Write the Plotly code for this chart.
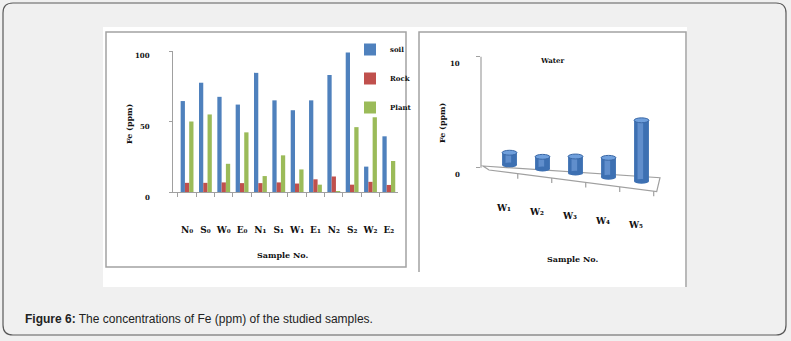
import plotly.graph_objects as go

W, H = 791, 341

# ---------------- data ----------------
samples = ["N₀", "S₀", "W₀", "E₀", "N₁", "S₁", "W₁", "E₁", "N₂", "S₂", "W₂", "E₂"]
soil = [64.5, 77.5, 67.5, 62.0, 84.5, 65.0, 58.0, 65.0, 83.0, 99.0, 18.0, 39.5]
rock = [6.5, 6.5, 6.8, 6.3, 6.3, 6.8, 6.0, 9.0, 11.0, 5.2, 7.2, 5.0]
plant = [50.0, 55.0, 20.0, 42.3, 11.3, 26.0, 16.0, 5.2, 0.4, 46.0, 53.0, 22.0]
left_yticks = [0, 50, 100]

water_samples = ["W₁", "W₂", "W₃", "W₄", "W₅"]
water = [1.1, 1.1, 1.5, 1.75, 5.5]
right_yticks = [0, 10]

# ---------------- style helpers ----------------
def px(x):
    return x / W

def py(y):
    return 1 - y / H

BLUE, RED, GREEN = "#4F81BD", "#C0504D", "#9BBB59"
AXIS_GREY = "#a0a0a0"
LBL = dict(family="DejaVu Serif", size=8, color="#111111", weight="bold")

# right (pseudo 3-D) chart pixel mapping
R_X0, R_XSTEP = 509.5, 33.0
R_Y0, R_YSTEP = 167.7, 11.1
def rx(p):
    return (p - R_X0) / R_XSTEP
def ry(p):
    return (R_Y0 - p) / R_YSTEP

BAR_W = 0.45
ELL_H = 0.22
FLOOR_SLOPE = -0.37
BASE0 = 0.25

fig = go.Figure()

# ---------------- left chart ----------------
for name, vals, col in [("soil", soil, BLUE), ("Rock", rock, RED), ("Plant", plant, GREEN)]:
    fig.add_trace(go.Bar(x=samples, y=vals, name=name, marker_color=col,
                         marker_line_width=0, legendgroup=name,
                         xaxis="x", yaxis="y"))

# ---------------- right chart ----------------
n = len(water)
idx = list(range(n))
bases = [BASE0 + FLOOR_SLOPE * i for i in idx]
fig.add_trace(go.Bar(x=idx, y=water, base=bases, width=BAR_W, offset=-BAR_W / 2,
                     marker_color="#3d70b2", marker_line_width=0, showlegend=False,
                     xaxis="x2", yaxis="y2"))
fig.add_trace(go.Bar(x=idx, y=water, base=bases, width=0.17, offset=-0.12,
                     marker_color="rgba(140,180,235,0.45)", marker_line_width=0,
                     showlegend=False, xaxis="x2", yaxis="y2"))

shapes = []
# outer rounded frame
x0, x1, y0, y1 = px(3), px(786), py(335), py(3)
rxp, ryp = 10 / W, 10 / H
shapes.append(dict(
    type="path", xref="paper", yref="paper", layer="below",
    path=(f"M{x0 + rxp},{y1} L{x1 - rxp},{y1} Q{x1},{y1} {x1},{y1 - ryp} "
          f"L{x1},{y0 + ryp} Q{x1},{y0} {x1 - rxp},{y0} L{x0 + rxp},{y0} "
          f"Q{x0},{y0} {x0},{y0 + ryp} L{x0},{y1 - ryp} Q{x0},{y1} {x0 + rxp},{y1} Z"),
    line=dict(color="#5a5a5a", width=1.2), fillcolor="#f0f0f0"))
# white image area
shapes.append(dict(type="rect", xref="paper", yref="paper", layer="below",
                   x0=px(103), x1=px(687), y0=py(287), y1=py(27),
                   fillcolor="white", line=dict(width=0)))
# left panel border
shapes.append(dict(type="rect", xref="paper", yref="paper", layer="below",
                   x0=px(106), x1=px(406), y0=py(267), y1=py(32),
                   line=dict(color="#a3a3a3", width=1.5)))
# right panel border
shapes.append(dict(type="path", xref="paper", yref="paper", layer="below",
                   path=f"M{px(419)},{py(272)} L{px(419)},{py(32)} L{px(686)},{py(32)} L{px(686)},{py(287)}",
                   line=dict(color="#a3a3a3", width=1.5)))

# back vertical axis of the 3-D chart
shapes.append(dict(type="line", xref="x2 domain", yref="y2", x0=0, x1=0,
                   y0=right_yticks[0], y1=right_yticks[-1],
                   line=dict(color=AXIS_GREY, width=1.2), layer="below"))
# floor
BL, BR, FR, FL = (rx(483), ry(166)), (rx(660), ry(177.7)), (rx(656.7), ry(191.7)), (rx(489), ry(170))
shapes.append(dict(type="path", xref="x2", yref="y2", layer="below",
                   path=f"M{BL[0]},{BL[1]} L{BR[0]},{BR[1]} L{FR[0]},{FR[1]} L{FL[0]},{FL[1]} Z",
                   line=dict(color=AXIS_GREY, width=1.2), fillcolor="white"))
front_slope = (FR[1] - FL[1]) / (FR[0] - FL[0])
for i in idx:
    tx = i + 0.5 - 0.25 + 0.03 * i
    ty = FL[1] + front_slope * (tx - FL[0])
    shapes.append(dict(type="line", xref="x2", yref="y2", x0=tx, x1=tx, y0=ty, y1=ty - 0.45,
                       line=dict(color=AXIS_GREY, width=1.2), layer="below"))
# cylinder ends
for i, v, b in zip(idx, water, bases):
    shapes.append(dict(type="circle", xref="x2", yref="y2",
                       x0=i - BAR_W / 2, x1=i + BAR_W / 2, y0=b - ELL_H, y1=b + ELL_H,
                       fillcolor="#3d70b2", line=dict(width=0)))
    shapes.append(dict(type="circle", xref="x2", yref="y2",
                       x0=i - BAR_W / 2, x1=i + BAR_W / 2, y0=b + v - ELL_H, y1=b + v + ELL_H,
                       fillcolor="#6f9fdc", line=dict(color="#3a68a6", width=1)))

annotations = []
def ann(text, x, y, angle=0, font=LBL, xref="paper", yref="paper", xanchor="center", **kw):
    annotations.append(dict(text=text, x=x, y=y, xref=xref, yref=yref, showarrow=False,
                            textangle=angle, font=font, xanchor=xanchor, yanchor="middle", **kw))

ann("Fe (ppm)", px(129), py(124), angle=-90)
ann("Sample No.", px(282), py(255))
ann("Fe (ppm)", px(442), py(123), angle=-90)
ann("Sample No.", px(572), py(259))
ann("Water", px(552), py(60), font=dict(LBL, size=7))
for i, lab in enumerate(water_samples):
    ann(lab, i - 0.19, -3.6 - 0.39 * i, xref="x2", yref="y2", font=dict(LBL, size=9))
# y tick labels (offset below their ticks as in the pseudo-3D original)
for v in left_yticks:
    ann(str(v), px(152), v, yref="y", xanchor="right", yshift=-5, font=dict(LBL, size=7))
for v in right_yticks:
    ann(str(v), px(462), v, yref="y2", xanchor="right", yshift=-6.5, font=dict(LBL, size=7))

annotations.append(dict(
    text="<b>Figure 6:</b> The concentrations of Fe (ppm) of the studied samples.",
    x=px(23), y=py(319), xref="paper", yref="paper", showarrow=False,
    xanchor="left", yanchor="middle",
    font=dict(family="Liberation Sans, Arial, sans-serif", size=12, color="#222222")))

fig.update_layout(
    width=W, height=H, margin=dict(l=0, r=0, t=0, b=0),
    paper_bgcolor="#f0f0f0", plot_bgcolor="rgba(0,0,0,0)",
    barmode="group", bargap=0.3, bargroupgap=0,
    shapes=shapes, annotations=annotations,
    showlegend=True,
    legend=dict(x=px(350), y=py(35), xanchor="left", yanchor="top",
                font=dict(LBL, size=7), bgcolor="rgba(0,0,0,0)",
                tracegroupgap=10, itemwidth=30, traceorder="grouped"),
    xaxis=dict(domain=[px(173), px(398)], type="category",
               range=[-0.5 - 5 / 18.75, len(samples) - 0.5],
               showline=True, linecolor=AXIS_GREY, linewidth=1.2,
               ticks="outside", tickson="boundaries", ticklen=4, tickcolor=AXIS_GREY,
               tickangle=0, tickfont=dict(LBL, size=9), ticklabelstandoff=29,
               showgrid=False, zeroline=False, fixedrange=True),
    yaxis=dict(domain=[py(192), py(51)], range=[left_yticks[0], left_yticks[-1]],
               tickvals=left_yticks, showticklabels=False,
               showline=True, linecolor=AXIS_GREY, linewidth=1.2,
               ticks="outside", ticklen=3, tickcolor=AXIS_GREY,
               showgrid=False, zeroline=False, fixedrange=True),
    xaxis2=dict(domain=[px(481), px(661.3)], range=[rx(481), rx(661.3)],
                visible=False, anchor="y2", fixedrange=True),
    yaxis2=dict(domain=[py(R_Y0 + 6 * R_YSTEP), py(R_Y0 - 10.5 * R_YSTEP)], range=[-6, 10.5],
                anchor="x2", tickvals=right_yticks, showticklabels=False, showline=False,
                ticks="outside", ticklen=4, tickcolor=AXIS_GREY,
                showgrid=False, zeroline=False, fixedrange=True),
)

fig.write_html("out.html")
